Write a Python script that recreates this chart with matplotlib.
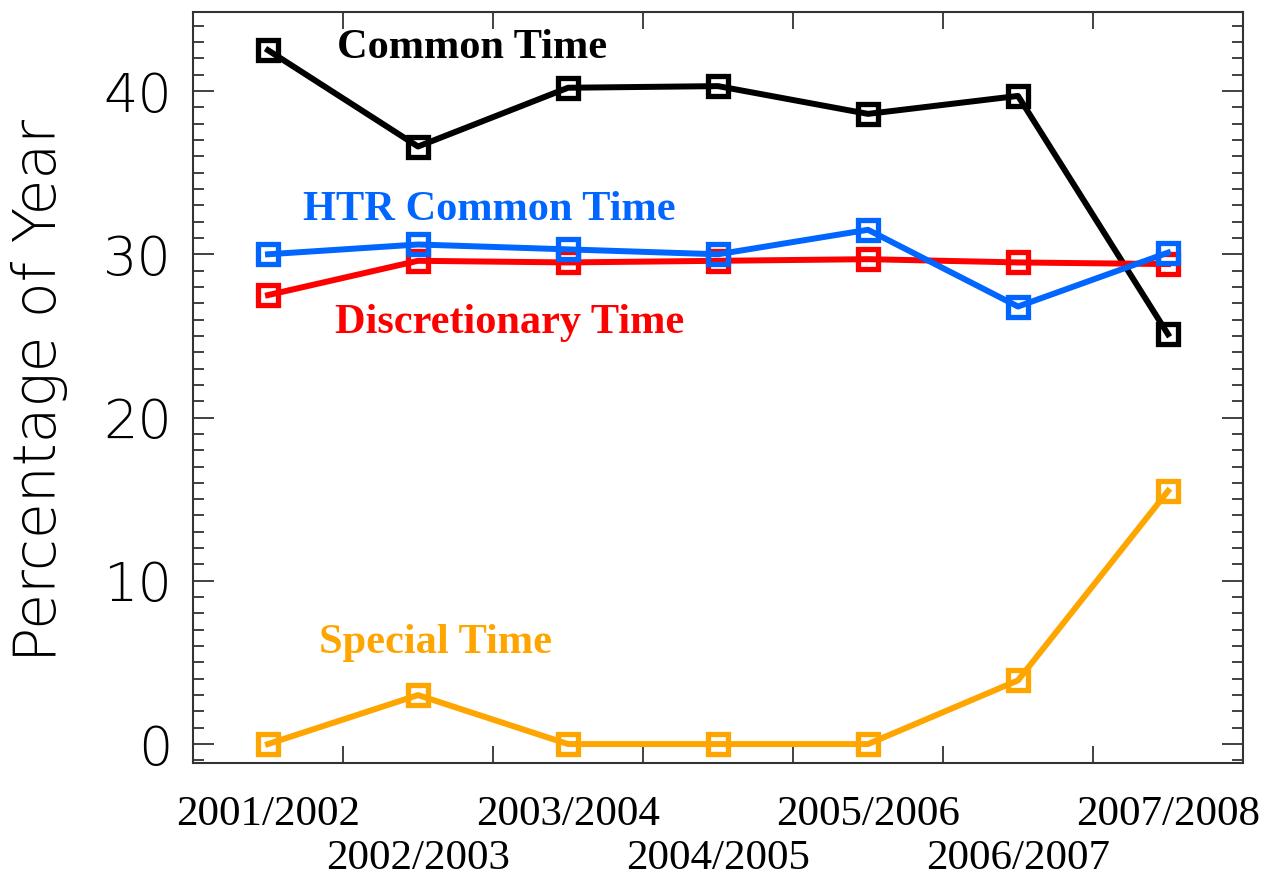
import numpy as np
import matplotlib.pyplot as plt
from matplotlib.ticker import MultipleLocator, FixedLocator, NullFormatter

years = ['2001/2002', '2002/2003', '2003/2004', '2004/2005',
         '2005/2006', '2006/2007', '2007/2008']
common = [42.5, 36.6, 40.2, 40.3, 38.6, 39.7, 25.1]
htr = [30.0, 30.6, 30.3, 30.0, 31.5, 26.8, 30.1]
discretionary = [27.5, 29.6, 29.5, 29.6, 29.7, 29.5, 29.4]
special = [0.0, 3.0, 0.0, 0.0, 0.0, 3.9, 15.5]

black = '#000000'
blue = '#0066ff'
red = '#ff0000'
orange = '#ffa500'

x = np.arange(1, len(years) + 1)

fig = plt.figure(figsize=(12.74, 8.83), dpi=100)
ax = fig.add_axes([193/1274, 1 - 763/883, 1050/1274, 751/883])

style = dict(lw=4.3, marker='s', ms=15, mfc='none', mew=3.8)
ax.plot(x, common, color=black, **style)
ax.plot(x, discretionary, color=red, **style)
ax.plot(x, htr, color=blue, **style)
ax.plot(x, special, color=orange, **style)

ax.set_xlim(0.5, 7.5)
ax.set_ylim(-1.16, 44.84)

# x ticks between years, labels under each year on two rows
ax.xaxis.set_major_locator(FixedLocator(x[:-1] + 0.5))
ax.xaxis.set_major_formatter(NullFormatter())
ax.tick_params(axis='x', which='major', direction='in', length=12, width=1.3,
               top=True, bottom=True, color='#333333')
for i, lab in enumerate(years):
    yy = -0.069 if i % 2 == 0 else -0.128
    ax.text(x[i], yy, lab, transform=ax.get_xaxis_transform(),
            ha='center', va='center', fontsize=31, family='Liberation Serif')

ax.yaxis.set_major_locator(MultipleLocator(10))
ax.yaxis.set_minor_locator(MultipleLocator(1))
ax.tick_params(axis='y', which='major', direction='in', length=15, width=1.3,
               left=True, right=True, pad=15, labelsize=39, color='#333333')
ax.tick_params(axis='y', which='minor', direction='in', length=8, width=1.3,
               left=True, right=True, color='#333333')
for lab in ax.get_yticklabels():
    lab.set_fontweight('light')

for sp in ax.spines.values():
    sp.set_linewidth(1.5)
    sp.set_color('#333333')

fig.text(40/1274, 1 - 390/883, 'Percentage of Year', rotation=90,
         ha='center', va='center', fontsize=42, fontweight='light')

lab_style = dict(fontsize=30.5, fontweight='bold', family='Liberation Serif', va='baseline')
ax.text(1.46, 42.0, 'Common Time', color=black, **lab_style)
ax.text(1.233, 32.1, 'HTR Common Time', color=blue, **lab_style)
ax.text(1.446, 25.2, 'Discretionary Time', color=red, **lab_style)
ax.text(1.34, 5.57, 'Special Time', color=orange, **lab_style)

fig.savefig('out.png', dpi=100)
